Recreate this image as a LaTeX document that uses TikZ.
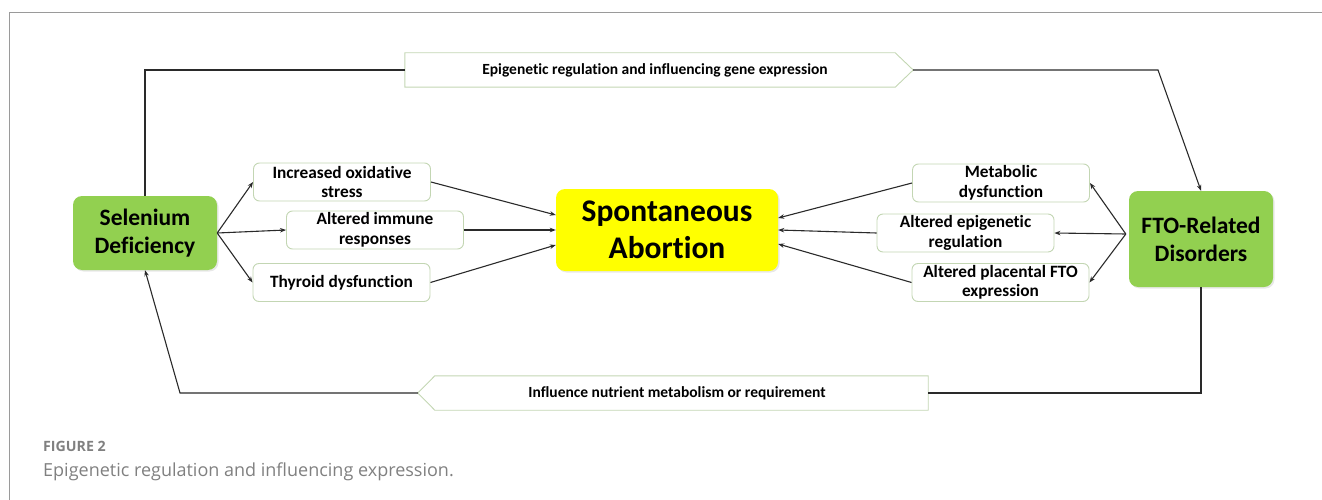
\documentclass[tikz,border=0pt]{standalone}
\usepackage{fontspec}
\setmainfont{Carlito}[Ligatures=NoCommon]
\newfontfamily\capfont{Open Sans}
\usetikzlibrary{arrows.meta,shadows}
\definecolor{boxgreen}{HTML}{92D050}
\definecolor{boxyellow}{HTML}{FFFF00}
\definecolor{boxedge}{HTML}{C3D6B3}
\definecolor{linec}{HTML}{2A2A2A}
\definecolor{framec}{HTML}{9A9A9A}
\definecolor{capgray}{HTML}{808080}
\tikzset{
  bigbox/.style={rounded corners=9pt, inner sep=0pt, align=center,
    font=\bfseries\fontsize{23.5}{28}\selectfont,
    drop shadow={opacity=0.18, shadow xshift=1.5pt, shadow yshift=-1.5pt}},
  smallbox/.style={draw=boxedge, line width=0.9pt, rounded corners=6pt, fill=white,
    inner sep=0pt, minimum width=177pt, minimum height=38pt, align=center,
    font=\bfseries\fontsize{17.3}{19.5}\selectfont},
  arrowbox/.style={inner sep=0pt, minimum height=34pt, font=\bfseries\fontsize{15.5}{18}\selectfont},
  boxline/.style={draw=boxedge, line width=0.9pt},
  conn/.style={draw=linec, line width=1.1pt, -{Stealth[length=6pt,width=4.5pt]}},
  plain/.style={draw=linec, line width=1.1pt},
}
\begin{document}
\begin{tikzpicture}[x=1pt,y=-1pt]
\useasboundingbox (0,0) rectangle (1322,500);
% frame
\draw[framec, line width=0.9pt] (9,500) -- (9,12) -- (1322,12);

% main nodes
\node[bigbox, fill=boxgreen, minimum width=144pt, minimum height=74pt] (sel) at (145,233) {Selenium\\Deficiency};
\node[bigbox, fill=boxgreen, minimum width=144pt, minimum height=96pt] (fto) at (1201,239) {FTO-Related\\Disorders};
\node[bigbox, fill=boxyellow, minimum width=222pt, minimum height=82pt,
      font=\bfseries\fontsize{31.5}{37}\selectfont] (spont) at (667,230) {Spontaneous\\Abortion};

% small boxes
\node[smallbox] (ox)  at (342,182)   {Increased oxidative\\stress};
\node[smallbox] (imm) at (375,230)   {Altered immune\\responses};
\node[smallbox] (thy) at (341.5,282.5) {Thyroid dysfunction};
\node[smallbox] (met) at (1001,183)  {Metabolic\\dysfunction};
\node[smallbox] (epi) at (965.5,233) {Altered epigenetic\\regulation};
\node[smallbox] (pla) at (1000.5,282.5) {Altered placental FTO\\expression};

% pentagon arrow boxes
\node[arrowbox, minimum width=508pt] (top) at (659,70) {\hspace*{-8pt}Epigenetic regulation and influencing gene expression};
\draw[boxline] (top.north west) -- ([xshift=-18pt]top.north east) -- (top.east)
  -- ([xshift=-18pt]top.south east) -- (top.south west) -- cycle;
\node[arrowbox, minimum width=510pt] (bot) at (673,393) {\hspace*{8pt}Influence nutrient metabolism or requirement};
\draw[boxline] (bot.west) -- ([xshift=17pt]bot.north west) -- (bot.north east)
  -- (bot.south east) -- ([xshift=17pt]bot.south west) -- cycle;

% feedback loop
\coordinate (c1) at (1158,70);
\coordinate (c2) at (180,393);
\draw[plain] (sel.north) |- (top.west);
\draw[conn] (top.east) -- (c1) -- (fto.north);
\draw[plain] (fto.south) |- (bot.east);
\draw[conn] (bot.west) -- (c2) -- (sel.south);

% selenium branches
\draw[conn] (sel.east) -- (ox.west);
\draw[conn] (sel.east) -- (imm.west);
\draw[conn] (sel.east) -- (thy.west);
\draw[conn] (ox.east) -- ([yshift=15pt]spont.west);
\draw[conn] (imm.east) -- (spont.west);
\draw[conn] (thy.east) -- ([yshift=-15pt]spont.west);

% FTO branches
\coordinate (fl) at ([yshift=5pt,xshift=-3pt]fto.west);
\draw[conn] (fl) -- (met.east);
\draw[conn] (fl) -- (epi.east);
\draw[conn] (fl) -- (pla.east);
\draw[conn] (met.west) -- ([yshift=12pt]spont.east);
\draw[conn] (epi.west) -- (spont.east);
\draw[conn] (pla.west) -- ([yshift=-14pt]spont.east);

% caption
\node[anchor=base west, inner sep=0pt, text=capgray, font=\capfont\bfseries\fontsize{14.2}{17}\selectfont] (fig) at (43,451) {FIGURE 2};
\node[anchor=base west, inner sep=0pt, text=capgray, font=\capfont\fontsize{18}{21}\selectfont] (cap) at (43,476) {Epigenetic regulation and influencing expression.};
\end{tikzpicture}
\end{document}
